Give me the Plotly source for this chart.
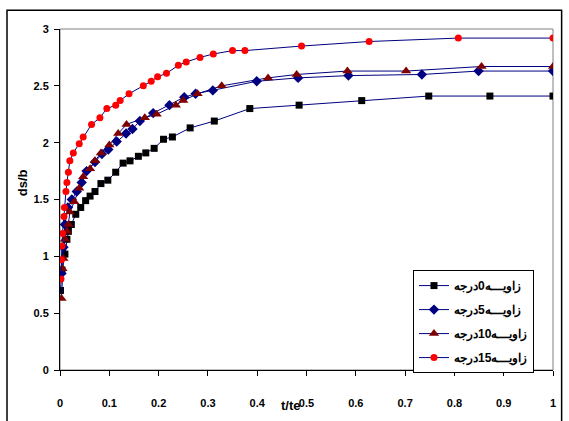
import plotly.graph_objects as go

# t/te and ds/b values for each angle series
x_0 = [0.001, 0.004, 0.010, 0.014, 0.017, 0.023, 0.032, 0.042, 0.052, 0.061, 0.071, 0.083, 0.097,
       0.113, 0.128, 0.142, 0.159, 0.174, 0.191, 0.210, 0.228, 0.264, 0.313, 0.385, 0.485, 0.612,
       0.748, 0.872, 1.0]
y_0 = [0.70, 0.88, 1.02, 1.15, 1.22, 1.28, 1.37, 1.43, 1.49, 1.53, 1.57, 1.64, 1.67,
       1.74, 1.82, 1.84, 1.88, 1.91, 1.95, 2.03, 2.05, 2.13, 2.19, 2.30, 2.33, 2.37,
       2.41, 2.41, 2.41]

x_5 = [0.003, 0.007, 0.010, 0.016, 0.024, 0.034, 0.044, 0.054, 0.071, 0.085, 0.098, 0.115, 0.134,
       0.147, 0.162, 0.189, 0.222, 0.252, 0.275, 0.310, 0.399, 0.483, 0.585, 0.734, 0.849, 1.0]
y_5 = [0.85, 1.08, 1.28, 1.43, 1.50, 1.57, 1.65, 1.75, 1.83, 1.90, 1.94, 2.01, 2.08,
       2.12, 2.19, 2.26, 2.33, 2.40, 2.43, 2.46, 2.54, 2.57, 2.59, 2.60, 2.63, 2.63]

x_10 = [0.003, 0.005, 0.007, 0.010, 0.014, 0.017, 0.020, 0.029, 0.039, 0.047, 0.061, 0.071, 0.083,
        0.100, 0.118, 0.135, 0.172, 0.196, 0.235, 0.250, 0.279, 0.328, 0.422, 0.480, 0.583, 0.702,
        0.855, 1.0]
y_10 = [0.63, 0.89, 0.98, 1.15, 1.22, 1.28, 1.39, 1.48, 1.60, 1.70, 1.77, 1.84, 1.91,
        1.98, 2.08, 2.16, 2.22, 2.25, 2.33, 2.37, 2.43, 2.50, 2.57, 2.60, 2.63, 2.63,
        2.67, 2.67]

x_15 = [0.002, 0.003, 0.004, 0.005, 0.008, 0.009, 0.012, 0.014, 0.017, 0.020, 0.027, 0.039, 0.047,
        0.064, 0.081, 0.095, 0.113, 0.122, 0.140, 0.169, 0.185, 0.198, 0.216, 0.240, 0.256, 0.284,
        0.311, 0.350, 0.375, 0.490, 0.627, 0.808, 1.0]
y_15 = [0.80, 0.97, 1.09, 1.20, 1.35, 1.43, 1.57, 1.65, 1.74, 1.84, 1.91, 1.99, 2.05,
        2.16, 2.22, 2.30, 2.33, 2.37, 2.43, 2.50, 2.54, 2.58, 2.61, 2.68, 2.71, 2.75,
        2.78, 2.81, 2.81, 2.85, 2.89, 2.92, 2.92]

names = ["زاویـــه0درجه", "زاویـــه5درجه", "زاویـــه10درجه", "زاویـــه15درجه"]

x_ticks = [0, 0.1, 0.2, 0.3, 0.4, 0.5, 0.6, 0.7, 0.8, 0.9, 1]
x_labels = ["0", "0.1", "0.2", "0.3", "0.4", "0.5", "0.6", "0.7", "0.8", "0.9", "1"]
y_ticks = [0, 0.5, 1, 1.5, 2, 2.5, 3]
y_labels = ["0", "0.5", "1", "1.5", "2", "2.5", "3"]

LINE = "#000080"
styles = [
    dict(symbol="square", size=7, color="#000000"),
    dict(symbol="diamond", size=8, color="#000080"),
    dict(symbol="triangle-up", size=9, color="#800000"),
    dict(symbol="circle", size=7, color="#FF0000"),
]
series = [(x_0, y_0), (x_5, y_5), (x_10, y_10), (x_15, y_15)]

fig = go.Figure()
for i, ((xs, ys), st, nm) in enumerate(zip(series, styles, names)):
    fig.add_trace(go.Scatter(
        x=xs, y=ys, mode="lines+markers", name=nm, legendgroup=str(i),
        line=dict(color=LINE, width=1),
        marker=dict(symbol=st["symbol"], size=st["size"], color=st["color"],
                    line=dict(width=0)),
    ))

FONT = "Liberation Sans, Arial, sans-serif"

fig.update_layout(
    width=569, height=421,
    margin=dict(l=60, r=16, t=29, b=47),
    paper_bgcolor="white", plot_bgcolor="white",
    font=dict(family=FONT, size=11, color="black"),
    showlegend=True,
    legend=dict(
        x=0.716, y=0.293, xanchor="left", yanchor="top",
        bgcolor="white", bordercolor="black", borderwidth=1,
        font=dict(family=FONT, size=12, color="black", weight="bold"),
        tracegroupgap=5, itemwidth=30,
    ),
    xaxis=dict(
        range=[0, 1], tickvals=x_ticks, ticktext=x_labels,
        showline=True, linecolor="black", linewidth=1,
        ticks="outside", ticklen=5, tickcolor="black",
        showgrid=False, zeroline=False, ticklabelstandoff=18,
        tickfont=dict(family=FONT, size=11, weight="bold"),
    ),
    yaxis=dict(
        range=[0, 3], tickvals=y_ticks, ticktext=y_labels,
        showline=True, linecolor="black", linewidth=1,
        ticks="outside", ticklen=5, tickcolor="black",
        showgrid=False, zeroline=False, ticklabelstandoff=3,
        tickfont=dict(family=FONT, size=11, weight="bold"),
    ),
    shapes=[
        dict(type="rect", xref="paper", yref="paper", x0=0, y0=0, x1=1, y1=1,
             line=dict(color="#808080", width=1), layer="below"),
        dict(type="rect", xref="paper", yref="paper",
             x0=-0.1075, y0=-0.16, x1=1.0175, y1=1.055,
             line=dict(color="black", width=1.5), layer="below"),
    ],
    annotations=[
        dict(text="<b>ds/b</b>", xref="paper", yref="paper", x=-0.077, y=0.548,
             xanchor="center", yanchor="middle",
             textangle=-90, showarrow=False, font=dict(family=FONT, size=13)),
        dict(text="<b>t/te</b>", xref="paper", yref="paper", x=0.468, y=-0.104,
             xanchor="center", yanchor="middle",
             showarrow=False, font=dict(family=FONT, size=13)),
    ],
)

fig.write_html("out.html", config={"displayModeBar": False},
               post_script="document.body.style.margin='0';document.body.style.padding='0';")
